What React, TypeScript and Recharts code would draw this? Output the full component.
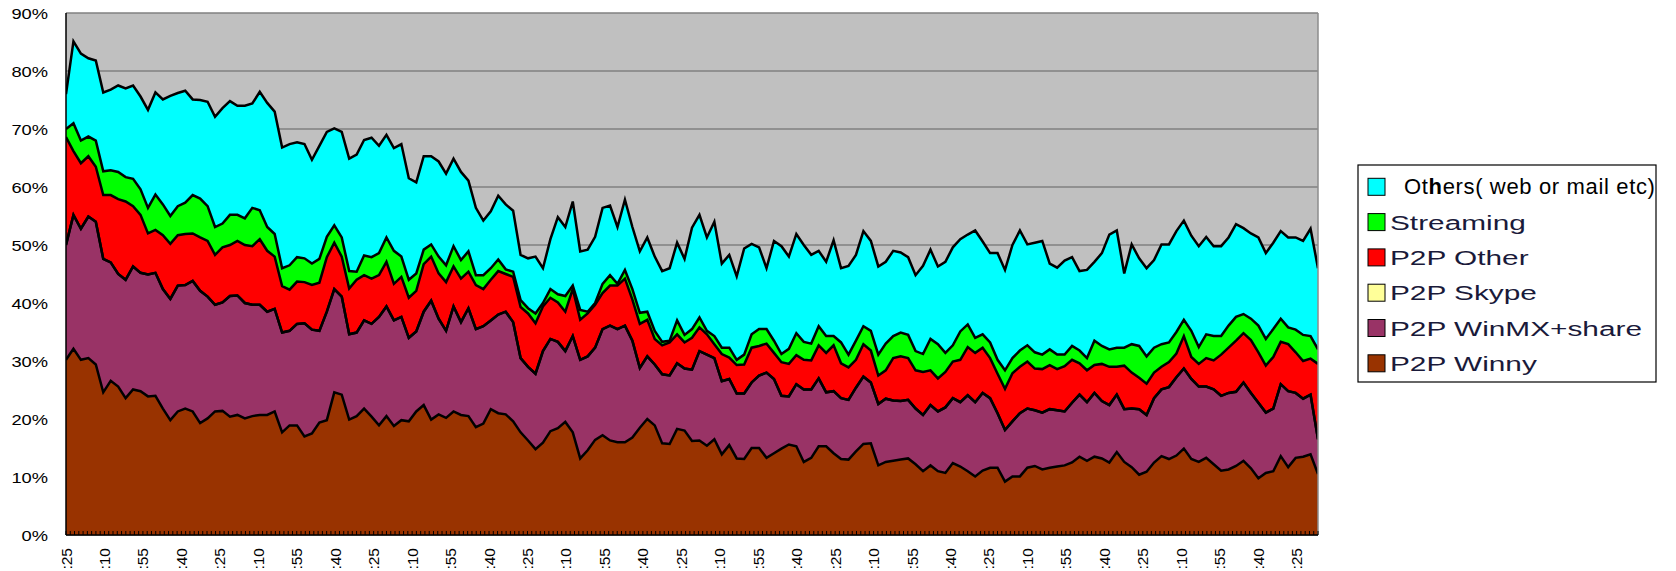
import React from 'react';
import { AreaChart, Area, XAxis, YAxis, CartesianGrid, ReferenceLine } from 'recharts';

// ---- time axis: minutes after the first labelled time (12:25) ----
const START_HOUR = 12;
const START_MIN = 25;
const X_END = 1465; // minutes covered by the plot
const LABEL_STEP = 45; // a label every 45 minutes
const MINOR_STEP = 5; // a tick mark every 5 minutes
const N_POINTS = 169;
const SAMPLE_STEP = X_END / (N_POINTS - 1); // minutes between the sampled readings

const X_TICKS: number[] = [];
for (let m = 0; m <= X_END; m += MINOR_STEP) X_TICKS.push(m);

const Y_TICKS = [0, 10, 20, 30, 40, 50, 60, 70, 80, 90];

// ---- series values (% of traffic) ----
const WINNY = [
  30.2, 32.1, 30.2, 30.5, 29.4, 24.6, 26.6, 25.6, 23.6, 25.1,
  24.8, 23.9, 24.0, 21.8, 19.8, 21.3, 21.8, 21.3, 19.3, 20.1,
  21.3, 21.4, 20.4, 20.7, 20.1, 20.5, 20.7, 20.7, 21.3, 17.7,
  18.9, 18.9, 17.0, 17.5, 19.4, 19.8, 24.6, 24.2, 19.9, 20.5,
  21.8, 20.4, 18.9, 20.5, 18.8, 19.8, 19.6, 21.3, 22.4, 19.9,
  20.8, 20.2, 21.3, 20.7, 20.5, 18.6, 19.2, 21.7, 21.0, 20.8,
  19.6, 17.7, 16.3, 14.8, 15.9, 17.9, 18.4, 19.5, 17.7, 13.2,
  14.6, 16.4, 17.2, 16.3, 16.0, 16.0, 16.8, 18.5, 20.0, 18.9,
  15.8, 15.7, 18.3, 18.0, 16.2, 16.3, 15.4, 16.5, 13.9, 15.5,
  13.2, 13.1, 15.0, 15.0, 13.3, 14.1, 14.9, 15.6, 15.3, 12.6,
  13.3, 15.3, 15.3, 14.1, 13.1, 13.0, 14.4, 15.7, 15.8, 12.0,
  12.6, 12.8, 13.0, 13.2, 12.2, 11.0, 12.0, 11.0, 10.7, 12.4,
  11.8, 11.0, 10.1, 11.1, 11.6, 11.6, 9.2, 10.1, 10.1, 11.6,
  11.9, 11.3, 11.6, 11.8, 12.0, 12.5, 13.5, 12.8, 13.5, 13.2,
  12.5, 14.3, 12.6, 11.7, 10.4, 10.9, 12.5, 13.6, 13.1, 13.7,
  14.9, 13.1, 12.6, 13.3, 12.2, 11.1, 11.3, 11.9, 12.8, 11.5,
  9.8, 10.7, 11.0, 13.6, 11.7, 13.3, 13.5, 13.9, 10.5,
];

const WINMX = [
  19.8, 23.1, 22.6, 24.4, 24.6, 23.0, 20.4, 19.4, 20.4, 21.2,
  20.4, 21.0, 21.2, 20.6, 20.9, 21.7, 21.3, 22.5, 22.8, 21.0,
  18.4, 18.7, 20.8, 20.6, 19.9, 19.2, 19.0, 17.8, 17.7, 17.2,
  16.3, 17.5, 19.5, 17.9, 15.8, 18.7, 17.8, 16.9, 14.7, 14.4,
  15.2, 16.0, 18.7, 18.9, 18.2, 17.8, 14.4, 13.8, 16.1, 20.5,
  16.5, 15.0, 18.1, 16.0, 18.6, 16.9, 16.8, 15.3, 17.0, 17.7,
  17.1, 12.8, 12.7, 13.0, 15.8, 15.9, 14.9, 12.2, 16.6, 17.0,
  16.2, 15.9, 18.3, 19.8, 19.5, 20.1, 16.7, 10.3, 10.8, 10.5,
  11.9, 11.8, 11.3, 10.7, 12.3, 15.4, 15.7, 14.0, 12.6, 11.4,
  11.2, 11.3, 11.3, 12.5, 14.7, 12.8, 9.1, 8.3, 10.7, 12.5,
  11.8, 11.7, 9.3, 10.7, 10.5, 10.3, 11.0, 11.6, 10.5, 10.6,
  10.9, 10.4, 10.1, 10.1, 9.6, 9.7, 10.4, 10.3, 11.3, 11.2,
  11.1, 13.1, 12.8, 13.4, 12.0, 9.4, 8.9, 9.5, 10.9, 10.2,
  9.6, 9.8, 10.1, 9.7, 9.3, 10.3, 10.7, 10.1, 11.0, 9.9,
  9.9, 9.9, 9.1, 10.1, 11.3, 9.8, 11.1, 11.5, 12.4, 13.5,
  13.8, 13.8, 13.0, 12.3, 12.9, 12.9, 13.2, 12.8, 13.5, 13.0,
  13.0, 10.4, 10.8, 12.4, 13.1, 11.2, 10.0, 10.3, 6.0,
];

const SKYPE = [
  0, 0, 0, 0, 0, 0, 0, 0, 0, 0, 0, 0, 0, 0, 0, 0, 0, 0, 0, 0,
  0, 0, 0, 0, 0, 0, 0, 0, 0, 0, 0, 0, 0, 0, 0, 0, 0, 0, 0, 0,
  0, 0, 0, 0, 0, 0, 0, 0, 0, 0, 0, 0, 0, 0, 0, 0, 0, 0, 0, 0,
  0, 0, 0, 0, 0, 0, 0, 0, 0, 0, 0, 0, 0, 0, 0, 0, 0, 0, 0, 0,
  0, 0, 0, 0, 0, 0, 0, 0, 0, 0, 0, 0, 0, 0, 0, 0, 0, 0, 0, 0,
  0, 0, 0, 0, 0, 0, 0, 0, 0, 0, 0, 0, 0, 0, 0, 0, 0, 0, 0, 0,
  0, 0, 0, 0, 0, 0, 0, 0, 0, 0, 0, 0, 0, 0, 0, 0, 0, 0, 0, 0,
  0, 0, 0, 0, 0, 0, 0, 0, 0, 0, 0, 0, 0, 0, 0, 0, 0, 0, 0, 0,
  0, 0, 0, 0, 0, 0, 0, 0, 0,
];

const P2P_OTHER = [
  18.6, 11.0, 11.3, 10.4, 9.5, 11.0, 11.6, 12.9, 13.5, 10.4,
  10.0, 7.1, 7.4, 9.3, 9.5, 8.7, 8.8, 8.2, 9.2, 9.6,
  8.6, 9.5, 8.8, 9.4, 10.0, 10.1, 11.3, 10.5, 9.0, 8.0,
  7.1, 7.3, 7.1, 7.7, 8.3, 9.4, 8.0, 6.9, 7.9, 9.1,
  7.8, 7.8, 7.2, 7.7, 6.3, 6.9, 6.9, 7.0, 8.2, 7.6,
  7.8, 8.4, 6.9, 7.5, 6.3, 7.6, 6.4, 7.0, 7.5, 6.5,
  7.8, 8.8, 9.2, 8.7, 7.7, 7.1, 6.8, 6.8, 8.1, 6.9,
  7.4, 7.4, 6.2, 6.9, 7.5, 8.1, 7.1, 7.6, 6.3, 4.4,
  5.0, 5.7, 5.0, 4.5, 5.5, 4.1, 3.5, 2.4, 4.7, 3.7,
  4.9, 5.0, 6.0, 5.1, 5.0, 4.5, 5.8, 5.6, 5.0, 5.1,
  5.0, 5.7, 6.8, 7.9, 6.0, 5.6, 4.8, 5.6, 5.5, 4.9,
  4.9, 7.3, 7.7, 7.2, 6.6, 7.4, 6.0, 5.7, 6.1, 6.3,
  7.3, 8.3, 8.5, 7.8, 6.9, 6.8, 7.1, 8.3, 8.0, 8.1,
  7.2, 7.5, 7.6, 7.1, 7.8, 7.4, 5.4, 5.5, 4.8, 6.4,
  6.6, 4.8, 7.5, 6.2, 5.4, 5.4, 4.4, 3.9, 4.3, 4.1,
  5.6, 3.8, 3.9, 4.9, 5.0, 7.1, 7.8, 8.8, 8.5, 9.1,
  8.7, 8.1, 8.9, 7.3, 8.1, 7.0, 6.5, 6.2, 13.0,
];

const STREAMING = [
  1.4, 4.8, 3.9, 3.4, 4.5, 4.1, 4.3, 4.7, 4.2, 4.7,
  4.4, 4.4, 6.1, 5.3, 4.8, 5.0, 5.4, 6.6, 6.7, 6.0,
  4.8, 4.1, 5.2, 4.5, 4.6, 6.6, 5.0, 4.1, 3.9, 3.1,
  4.2, 4.2, 4.1, 3.7, 4.1, 3.5, 3.0, 3.3, 3.0, 1.4,
  3.4, 3.7, 3.8, 4.2, 5.7, 3.5, 3.1, 3.0, 2.5, 2.1,
  2.9, 2.9, 3.5, 3.2, 3.5, 1.7, 2.4, 2.0, 2.0, 0.8,
  0.9, 1.2, 0.9, 1.7, 0.6, 1.5, 1.4, 2.7, 0.6, 1.7,
  0.3, 0.3, 1.6, 1.8, 0.3, 1.5, 1.8, 1.9, 1.4, 1.4,
  0.6, 0.3, 2.4, 1.3, 1.5, 1.7, 0.6, 1.4, 1.1, 1.7,
  0.9, 1.7, 2.3, 2.9, 2.5, 2.1, 1.4, 2.6, 3.8, 3.1,
  2.9, 3.3, 2.9, 1.6, 3.6, 2.2, 3.3, 3.1, 3.4, 3.6,
  4.6, 3.8, 4.1, 4.0, 3.3, 3.1, 5.4, 5.9, 3.3, 2.8,
  4.9, 3.9, 2.6, 2.3, 2.7, 2.4, 3.2, 2.6, 2.8, 2.8,
  2.8, 2.5, 2.7, 2.5, 2.0, 2.4, 2.2, 2.1, 4.2, 3.1,
  3.0, 3.3, 3.1, 4.9, 5.5, 4.7, 4.3, 3.9, 3.4, 3.7,
  2.8, 4.5, 2.9, 4.1, 4.2, 3.2, 3.8, 4.1, 3.3, 3.7,
  4.6, 4.6, 4.8, 4.0, 2.9, 3.9, 4.5, 3.9, 2.5,
];

const OTHERS = [
  6.0, 14.1, 15.0, 13.5, 13.8, 13.6, 13.9, 14.9, 15.3, 16.1,
  16.0, 16.9, 17.6, 18.1, 20.7, 19.5, 19.3, 16.5, 17.0, 18.0,
  19.0, 19.9, 19.6, 18.8, 19.4, 18.0, 20.4, 21.4, 21.1, 20.8,
  20.9, 19.8, 19.7, 17.9, 19.5, 18.1, 16.7, 18.2, 19.4, 20.2,
  19.9, 20.6, 18.5, 17.7, 17.7, 19.4, 17.5, 15.7, 16.1, 15.2,
  16.4, 15.8, 15.1, 15.2, 12.2, 11.6, 9.4, 9.8, 11.0, 11.2,
  10.5, 7.8, 8.6, 9.8, 6.0, 8.6, 13.3, 11.9, 14.5, 10.1,
  10.7, 11.4, 13.1, 12.0, 9.8, 12.1, 10.7, 10.6, 12.8, 12.8,
  12.2, 12.5, 13.4, 13.1, 17.5, 17.7, 16.1, 19.7, 14.5, 16.0,
  14.4, 18.3, 15.6, 14.1, 10.5, 17.2, 18.6, 15.9, 17.1, 16.7,
  15.3, 13.0, 12.8, 16.5, 12.8, 15.3, 14.8, 16.4, 15.5, 15.2,
  14.1, 14.7, 13.8, 13.4, 13.1, 15.2, 15.4, 13.4, 15.7, 16.9,
  15.9, 15.5, 18.5, 16.0, 15.4, 18.4, 17.3, 19.5, 20.7, 17.4,
  18.9, 19.6, 14.8, 15.0, 16.2, 15.3, 13.7, 15.2, 13.6, 16.0,
  19.8, 20.2, 12.8, 17.2, 15.1, 15.2, 15.1, 17.2, 16.9, 17.4,
  17.1, 16.4, 17.4, 16.8, 15.5, 15.5, 15.2, 16.0, 14.8, 14.7,
  15.2, 14.8, 14.9, 15.1, 15.5, 15.9, 16.2, 18.5, 14.0,
];

// stacking order: bottom first
const SERIES = [
  { key: 'winny', name: 'P2P Winny', color: '#993300', values: WINNY },
  { key: 'winmx', name: 'P2P WinMX+share', color: '#993366', values: WINMX },
  { key: 'skype', name: 'P2P Skype', color: '#FFFF99', values: SKYPE },
  { key: 'p2pother', name: 'P2P Other', color: '#FF0000', values: P2P_OTHER },
  { key: 'streaming', name: 'Streaming', color: '#00FF00', values: STREAMING },
  { key: 'others', name: 'Others( web or mail etc)', color: '#00FFFF', values: OTHERS },
];

const DATA = WINNY.map((_, i) => {
  const row: Record<string, any> = { t: i * SAMPLE_STEP };
  SERIES.forEach((s) => {
    row[s.key] = s.values[i];
  });
  return row;
});

const minuteLabel = (offset: number) => {
  const total = START_HOUR * 60 + START_MIN + offset;
  return ':' + String(Math.round(total) % 60).padStart(2, '0');
};

const FONT = '"Liberation Sans", Arial, Helvetica, sans-serif';

const XTick = (props: any) => {
  const { x, y, payload } = props;
  const v = Math.round(payload.value);
  const showLabel = v % LABEL_STEP === 0;
  return (
    <g>
      <line x1={x} y1={y} x2={x} y2={y - 4} stroke="#000" strokeWidth={1} />
      {showLabel && (
        <text
          transform={`translate(${x + 5.5},${y + 13}) rotate(-90)`}
          textAnchor="end"
          fontSize={15.5}
          fontFamily={FONT}
          fill="#000"
        >
          {minuteLabel(v)}
        </text>
      )}
    </g>
  );
};

const YTick = (props: any) => {
  const { x, y, payload } = props;
  return (
    <text
      transform={`translate(${x},${y}) scale(1.18,1)`}
      textAnchor="end"
      dy="0.36em"
      fontSize={15.5}
      fontFamily={FONT}
      fill="#000"
    >
      {`${payload.value}%`}
    </text>
  );
};

const LegendBox = () => {
  const items = [...SERIES].reverse();
  const left = 1357;
  const top = 164;
  return (
    <svg width={300} height={220} style={{ position: 'absolute', left, top, overflow: 'visible' }}>
      <rect x={1} y={1} width={298} height={217} fill="#fff" stroke="#000" strokeWidth={1.2} />
      {items.map((s, k) => {
        const cy = 186.8 + k * 35.3 - top;
        const first = k === 0;
        return (
          <g key={s.key}>
            <rect x={11} y={cy - 8.5} width={17} height={17} fill={s.color} stroke="#000" strokeWidth={1} />
            {first ? (
              <text x={47} y={cy + 7.5} fontSize={22} fontFamily={FONT} fill="#000" letterSpacing={0.65}>
                {s.name.slice(0, 2)}
                <tspan fontWeight="bold">{s.name.slice(2, 3)}</tspan>
                {s.name.slice(3)}
              </text>
            ) : (
              <text
                transform={`translate(33,${cy + 7.5}) scale(1.42,1)`}
                fontSize={21}
                fontFamily={FONT}
                fill="#1a1a3a"
              >
                {s.name}
              </text>
            )}
          </g>
        );
      })}
    </svg>
  );
};

export default function App() {
  return (
    <div
      style={{
        position: 'absolute',
        left: 0,
        top: 0,
        width: 1676,
        height: 571,
        overflow: 'hidden',
        background: '#fff',
      }}
    >
      <AreaChart
        width={1676}
        height={600}
        data={DATA}
        margin={{ top: 13, right: 358, bottom: 0, left: 0 }}
      >
        <CartesianGrid vertical={false} stroke="#808080" strokeWidth={1.3} fill="#c0c0c0" fillOpacity={1} />
        {SERIES.map((s) => (
          <Area
            key={'fill-' + s.key}
            type="linear"
            dataKey={s.key}
            name={s.name}
            stackId="fill"
            fill={s.color}
            fillOpacity={1}
            stroke="none"
            dot={false}
            activeDot={false}
            isAnimationActive={false}
          />
        ))}
        {SERIES.map((s) => (
          <Area
            key={'line-' + s.key}
            type="linear"
            dataKey={s.key}
            stackId="line"
            fill="none"
            fillOpacity={0}
            stroke="#000"
            strokeWidth={2.5}
            dot={false}
            activeDot={false}
            legendType="none"
            isAnimationActive={false}
          />
        ))}
        <ReferenceLine x={X_END} stroke="#8c8c8c" strokeWidth={1.5} />
        <XAxis
          dataKey="t"
          type="number"
          domain={[0, X_END]}
          ticks={X_TICKS}
          interval={0}
          allowDataOverflow
          tickLine={false}
          tickSize={0}
          tickMargin={0}
          height={65}
          axisLine={{ stroke: '#000', strokeWidth: 1.5 }}
          tick={<XTick />}
        />
        <YAxis
          domain={[0, 90]}
          ticks={Y_TICKS}
          width={66}
          tickLine={false}
          tickSize={0}
          tickMargin={18}
          axisLine={{ stroke: '#000', strokeWidth: 1.5 }}
          tick={<YTick />}
        />
      </AreaChart>
      <LegendBox />
    </div>
  );
}
